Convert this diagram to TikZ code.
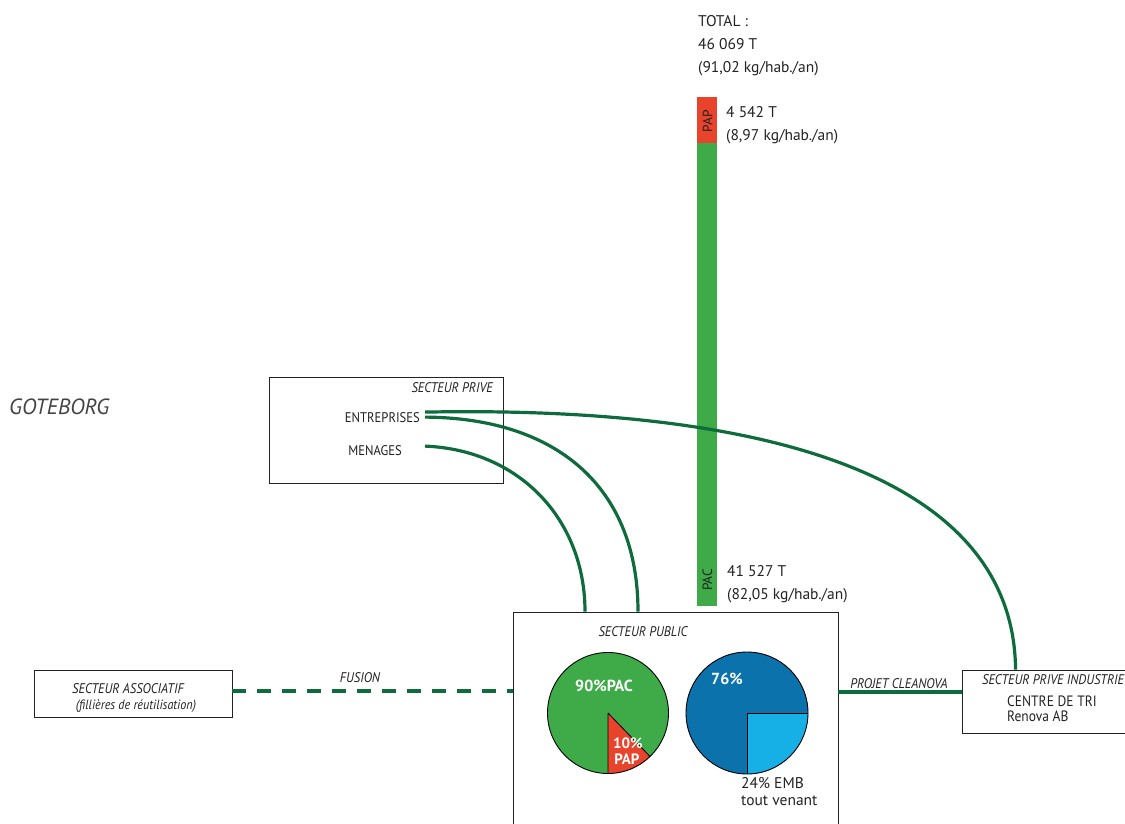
\documentclass[tikz,border=0pt]{standalone}
\usepackage{fontspec}
\setmainfont{PT Sans}
\newfontfamily\condfont[FakeStretch=0.9]{PT Sans}
\usetikzlibrary{calc}
\definecolor{barGreen}{HTML}{3EAB48}
\definecolor{papRed}{HTML}{E8432B}
\definecolor{linkGreen}{HTML}{0E6B3C}
\definecolor{pieBlue}{HTML}{0B72AC}
\definecolor{pieLight}{HTML}{17B0E6}
\definecolor{inkGray}{HTML}{222222}
\begin{document}
\begin{tikzpicture}[x=1pt,y=-1pt,
  box/.style={draw=inkGray,line width=0.9pt,inner sep=0pt},
  link/.style={draw=linkGreen,line width=3.2pt},
  tag/.style={font=\condfont\itshape\fontsize{14}{16}\selectfont,text=inkGray,inner sep=0pt},
  item/.style={font=\condfont\fontsize{14}{16}\selectfont,text=inkGray,inner sep=0pt},
  figure/.style={font=\fontsize{15.5}{23}\selectfont,text=inkGray,inner sep=0pt,align=left},
  pielabel/.style={font=\bfseries\fontsize{16}{16}\selectfont,text=white,inner sep=0pt}]
\useasboundingbox (0,0) rectangle (1125,824);

% stacked bar of the total tonnage
\fill[papRed] (697,97) rectangle (717,143);
\fill[barGreen] (697,143) rectangle (717,606);
\node[rotate=90,font=\fontsize{13.5}{13.5}\selectfont,text=inkGray,inner sep=0pt] (papbar) at (707.5,121) {PAP};
\node[rotate=90,font=\fontsize{13.5}{13.5}\selectfont,text=inkGray,inner sep=0pt] (pacbar) at (707.5,580) {PAC};

\node[figure,anchor=north west] (total) at (698,15) {TOTAL :\\46 069 T\\(91,02 kg/hab./an)};
\node[figure,anchor=north west] (papval) at (726,106) {4 542 T\\(8,97 kg/hab./an)};
\node[figure,anchor=north west] (pacval) at (727,565) {41 527 T\\(82,05 kg/hab./an)};

\node[font=\itshape\fontsize{22}{22}\selectfont,text=inkGray!85,anchor=west,inner sep=0pt] (city) at (9,407) {GOTEBORG};

% boxes
\node[box,minimum width=234pt,minimum height=106pt] (prive) at (386,430) {};
\node[tag,anchor=base east] (privetag) at (493,392) {SECTEUR PRIVE};
\node[item,anchor=base east] (ent) at (420,422) {ENTREPRISES};
\node[item,anchor=base east] (men) at (402,455) {MENAGES};

\node[box,minimum width=325pt,minimum height=230pt] (pub) at (675.5,727) {};
\node[tag,anchor=base] (pubtag) at (643,636) {SECTEUR PUBLIC};

\node[box,minimum width=198pt,minimum height=47pt] (assoc) at (133,693.5) {};
\node[tag,anchor=base] (assoc1) at (128,693) {SECTEUR ASSOCIATIF};
\node[tag,anchor=base,font=\condfont\itshape\fontsize{13.5}{15}\selectfont] (assoc2) at (136,709) {(fillières de réutilisation)};

\node[box,minimum width=180pt,minimum height=63pt] (indus) at (1052,701.5) {};
\node[tag,anchor=base west] (industag) at (982,684) {SECTEUR PRIVE INDUSTRIE};
\node[item,anchor=base west,font=\condfont\fontsize{15}{15}\selectfont] (centre1) at (1007,706) {CENTRE DE TRI};
\node[item,anchor=base west,font=\condfont\fontsize{15}{15}\selectfont] (centre2) at (1007,721) {Renova AB};

% connectors
\coordinate (entA) at ($(ent.east)+(5,-5)$);
\coordinate (entB) at ($(ent.east)+(5,0)$);
\coordinate (menA) at ($(men.east)+(23,-4)$);
\coordinate (industop) at ($(indus.north west)+(54,0)$);
\draw[link] (entA) .. controls (800,405) and (1014,490) .. (industop);
\draw[link] (entB) .. controls (560,418) and (638,490) .. (pub.north -| 638,0);
\draw[link] (menA) .. controls (520,450) and (585,520) .. (pub.north -| 585,0);

\draw[link,dash pattern=on 14pt off 11pt] (assoc.east |- 0,691) -- (pub.west |- 0,691);
\node[tag,anchor=base] (fusion) at (360,682) {FUSION};

\draw[link] (pub.east |- 0,692) -- (indus.west |- 0,692);
\node[tag,anchor=base] (cleanova) at (899,688) {PROJET CLEANOVA};

% pie charts
\coordinate (pieA) at (608,713);
\fill[barGreen] (pieA) circle[radius=60.5];
\fill[papRed] (pieA) -- +(90:60.5) arc[start angle=90,end angle=46,radius=60.5] -- cycle;
\draw[black,line width=0.8pt] (pieA) -- +(90:60.5) (pieA) -- +(46:60.5);
\draw[black,line width=0.9pt] (pieA) circle[radius=60.5];
\node[pielabel] (pac) at (604,686) {90\%PAC};
\node[pielabel,font=\bfseries\fontsize{15}{15}\selectfont] (pap1) at (628,743) {10\%};
\node[pielabel,font=\bfseries\fontsize{15}{15}\selectfont] (pap2) at (627,759) {PAP};

\coordinate (pieB) at (747,713);
\fill[pieBlue] (pieB) circle[radius=61];
\fill[pieLight] (pieB) -- +(0:61) arc[start angle=0,end angle=90,radius=61] -- cycle;
\draw[black,line width=0.8pt] (pieB) -- +(0:61) (pieB) -- +(90:61);
\draw[black,line width=0.9pt] (pieB) circle[radius=61];
\node[pielabel] (emb76) at (727,679) {76\%};
\node[figure,font=\fontsize{15.5}{17}\selectfont,anchor=north west] (emb24) at (741,777) {24\% EMB\\tout venant};
\end{tikzpicture}
\end{document}
